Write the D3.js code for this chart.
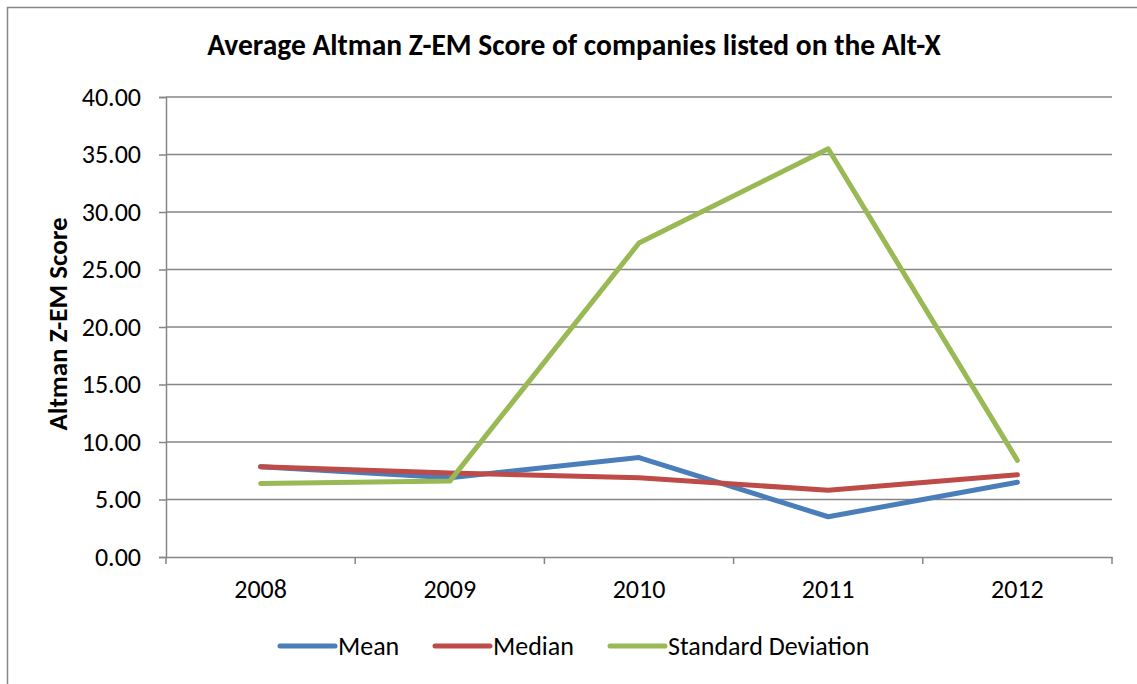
<!DOCTYPE html>
<html>
<head>
<meta charset="utf-8">
<script src="https://cdn.jsdelivr.net/npm/d3@7"></script>
<style>
  body { margin: 0; background: #fff; }
  svg { display: block; }
</style>
</head>
<body>
<div id="chart"></div>
<script>
var years = ["2008", "2009", "2010", "2011", "2012"];
var mean = [7.85, 6.9, 8.65, 3.5, 6.5];
var median = [7.85, 7.3, 6.9, 5.8, 7.15];
var stdDev = [6.4, 6.6, 27.3, 35.5, 8.4];
var yTicks = [0, 5, 10, 15, 20, 25, 30, 35, 40];

var seriesNames = ["Mean", "Median", "Standard Deviation"];
var seriesColors = ["#4a7ebb", "#be4b48", "#98b954"];
var seriesValues = [mean, median, stdDev];

var width = 1137, height = 684;
var font = "Calibri, Carlito, 'Open Sans', sans-serif";

var svg = d3.select("#chart").append("svg")
    .attr("width", width)
    .attr("height", height);

// chart area border
svg.append("rect")
    .attr("x", 7.5).attr("y", 7.5)
    .attr("width", width + 10).attr("height", height + 10)
    .attr("fill", "none")
    .attr("stroke", "#868686")
    .attr("stroke-width", 1.5);

var plotLeft = 166, plotRight = 1112, plotTop = 97, plotBottom = 557;

var x = d3.scaleBand().domain(years).range([plotLeft, plotRight]);
var y = d3.scaleLinear().domain([0, 40]).range([plotBottom, plotTop]);

// gridlines
svg.append("g").selectAll("line")
    .data(yTicks.slice(1))
    .enter().append("line")
    .attr("x1", plotLeft).attr("x2", plotRight)
    .attr("y1", function(d){ return y(d); })
    .attr("y2", function(d){ return y(d); })
    .attr("stroke", "#868686")
    .attr("stroke-width", 1.5);

// y axis
var yAxis = svg.append("g")
    .attr("transform", "translate(" + plotLeft + ",0)")
    .call(d3.axisLeft(y).tickValues(yTicks).tickSize(7).tickPadding(18)
        .tickFormat(function(d){ return d.toFixed(2); }));

// x axis
var xTickPos = years.map(function(d){ return x(d); }).concat([plotRight]);
var xAxis = svg.append("g")
    .attr("transform", "translate(0," + plotBottom + ")")
    .call(d3.axisBottom(x).tickSize(0).tickPadding(23));
xAxis.selectAll(".xtick")
    .data(xTickPos)
    .enter().append("line")
    .attr("class", "xtick")
    .attr("x1", function(d){ return d; })
    .attr("x2", function(d){ return d; })
    .attr("y1", 0).attr("y2", 7);

svg.selectAll(".domain, .tick line, .xtick")
    .attr("stroke", "#868686")
    .attr("stroke-width", 1.5);
svg.selectAll(".tick text")
    .attr("font-family", font)
    .attr("font-size", "26px")
    .attr("fill", "#000");

// lines
var line = d3.line()
    .x(function(d, i){ return x(years[i]) + x.bandwidth() / 2; })
    .y(function(d){ return y(d); });

seriesValues.forEach(function(vals, i){
    svg.append("path")
        .datum(vals)
        .attr("d", line)
        .attr("fill", "none")
        .attr("stroke", seriesColors[i])
        .attr("stroke-width", 5)
        .attr("stroke-linecap", "round")
        .attr("stroke-linejoin", "round");
});

// title
svg.append("text")
    .attr("x", 574)
    .attr("y", 55)
    .attr("text-anchor", "middle")
    .attr("font-family", font)
    .attr("font-weight", "bold")
    .attr("font-size", "29.5px")
    .text("Average Altman Z-EM Score of companies listed on the Alt-X");

// y axis title
svg.append("text")
    .attr("transform", "translate(67,324) rotate(-90)")
    .attr("text-anchor", "middle")
    .attr("font-family", font)
    .attr("font-weight", "bold")
    .attr("font-size", "27px")
    .text("Altman Z-EM Score");

// legend
var legendX = [280, 435, 610];
var legend = svg.append("g").selectAll("g")
    .data(seriesNames)
    .enter().append("g")
    .attr("transform", function(d, i){ return "translate(" + legendX[i] + ",646)"; });
legend.append("line")
    .attr("x1", 0).attr("x2", 55)
    .attr("y1", 0).attr("y2", 0)
    .attr("stroke", function(d, i){ return seriesColors[i]; })
    .attr("stroke-width", 5)
    .attr("stroke-linecap", "round");
legend.append("text")
    .attr("x", 58)
    .attr("y", 9)
    .attr("font-family", font)
    .attr("font-size", "26px")
    .text(function(d){ return d; });
</script>
</body>
</html>
